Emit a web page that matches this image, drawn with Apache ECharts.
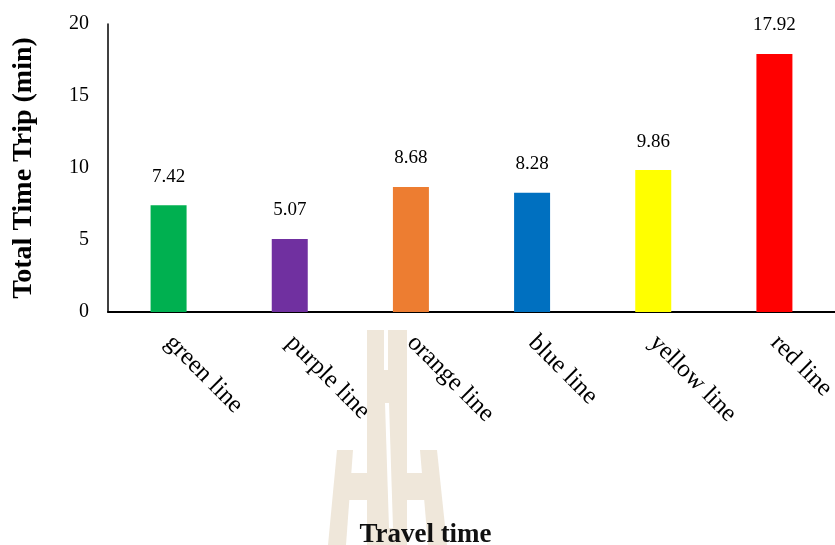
<!DOCTYPE html>
<html>
<head>
<meta charset="utf-8">
<script src="https://cdn.jsdelivr.net/npm/echarts@6/dist/echarts.min.js"></script>
<style>html,body{margin:0;padding:0;background:#fff;overflow:hidden}#c{width:835px;height:545px}</style>
</head>
<body>
<div id="c"></div>
<script>
const categories = ['green line', 'purple line', 'orange line', 'blue line', 'yellow line', 'red line'];
const values = [7.42, 5.07, 8.68, 8.28, 9.86, 17.92];
const barColors = ['#00B050', '#7030A0', '#ED7D31', '#0070C0', '#FFFF00', '#FF0000'];
const yTicks = [0, 5, 10, 15, 20];
const yTitle = 'Total Time Trip (min)';
const xTitle = 'Travel time';

const font = '"Liberation Serif", "Times New Roman", serif';
const wm = '#EFE7DA';
const chart = echarts.init(document.getElementById('c'), null, {renderer: 'canvas', width: 835, height: 545});
chart.setOption({
  backgroundColor: '#fff',
  animation: false,
  graphic: [
    {type: 'rect', z: -10, shape: {x: 367, y: 330, width: 40, height: 215}, style: {fill: wm}},
    {type: 'rect', z: -9, shape: {x: 384, y: 330, width: 4, height: 40}, style: {fill: '#fff'}},
    {type: 'polygon', z: -9, shape: {points: [[385, 403], [389, 403], [393, 528], [389, 528]]}, style: {fill: '#fff'}},
    {type: 'polygon', z: -10, shape: {points: [[337, 450], [353, 450], [346, 545], [328, 545]]}, style: {fill: wm}},
    {type: 'polygon', z: -10, shape: {points: [[420, 450], [437, 450], [447, 545], [428, 545]]}, style: {fill: wm}},
    {type: 'rect', z: -10, shape: {x: 348, y: 473, width: 22, height: 27}, style: {fill: wm}},
    {type: 'rect', z: -10, shape: {x: 405, y: 473, width: 20, height: 27}, style: {fill: wm}}
  ],
  grid: {left: 108, top: 24, width: 727, height: 288, containLabel: false, outerBoundsMode: 'none'},
  xAxis: {
    type: 'category',
    data: categories,
    name: xTitle,
    nameLocation: 'middle',
    nameGap: 210,
    nameTextStyle: {fontFamily: font, fontWeight: 'bold', fontSize: 27, color: '#111', padding: [0, 92, 0, 0]},
    axisLine: {lineStyle: {color: '#000', width: 2}},
    axisTick: {show: false},
    axisLabel: {rotate: -45, margin: 27, fontFamily: font, fontSize: 25, color: '#000', interval: 0}
  },
  yAxis: {
    type: 'value',
    min: 0, max: 20, interval: 5,
    name: yTitle,
    nameLocation: 'middle',
    nameGap: 70,
    nameRotate: 90,
    nameTextStyle: {fontFamily: font, fontWeight: 'bold', fontSize: 28, color: '#000'},
    axisLine: {show: true, lineStyle: {color: '#000', width: 1.5}},
    axisTick: {show: false},
    splitLine: {show: false},
    axisLabel: {fontFamily: font, fontSize: 20, color: '#000', margin: 19,
      formatter: v => yTicks.includes(v) ? String(v) : ''}
  },
  series: [{
    type: 'bar',
    z: 5,
    data: values.map((v, i) => ({value: v, itemStyle: {color: barColors[i]}})),
    barWidth: 36,
    label: {show: true, position: 'top', distance: 19, fontFamily: font, fontSize: 19, color: '#000',
      formatter: p => p.value.toFixed(2)}
  }]
});
</script>
</body>
</html>
